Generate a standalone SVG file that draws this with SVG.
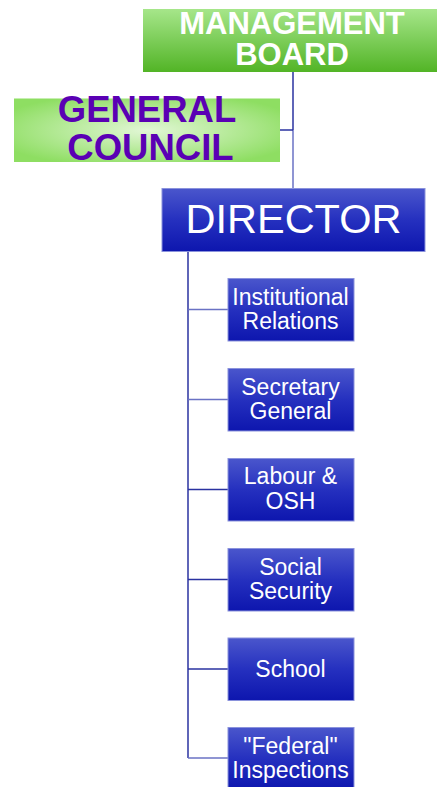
<svg xmlns="http://www.w3.org/2000/svg" width="437" height="787" viewBox="0 0 437 787">
<defs>
<linearGradient id="gMB" x1="0" y1="0" x2="0" y2="1">
<stop offset="0" stop-color="#a6e68a"/>
<stop offset="1" stop-color="#52b426"/>
</linearGradient>
<radialGradient id="gGC" cx="0.5" cy="0.5" r="0.6">
<stop offset="0" stop-color="#e2f7d6"/>
<stop offset="1" stop-color="#8ede62"/>
</radialGradient>
<linearGradient id="gBlue" x1="0" y1="0" x2="0" y2="1">
<stop offset="0" stop-color="#4a56cc"/>
<stop offset="0.5" stop-color="#2530bf"/>
<stop offset="1" stop-color="#0d16ae"/>
</linearGradient>
<style>
.box{fill:url(#gBlue);stroke:#8a92dc;stroke-width:1}
.t{font-family:"Liberation Sans",Arial,sans-serif;fill:#ffffff;text-anchor:middle}
.sub{font-size:23px}
.dark{stroke:#2a32a0;stroke-width:1.5;fill:none}
.light{stroke:#6a72c4;stroke-width:1.5;fill:none}
</style>
</defs>
<g id="connectors">
<line class="dark" x1="293" y1="72" x2="293" y2="130"/>
<line class="light" x1="293" y1="130" x2="293" y2="188"/>
<line class="dark" x1="280" y1="130" x2="293" y2="130"/>
<line class="dark" x1="188" y1="251" x2="188" y2="758"/>
<line class="light" x1="188" y1="309.5" x2="228" y2="309.5"/>
<line class="light" x1="188" y1="399.5" x2="228" y2="399.5"/>
<line class="dark" x1="188" y1="489.5" x2="228" y2="489.5"/>
<line class="dark" x1="188" y1="579.5" x2="228" y2="579.5"/>
<line class="dark" x1="188" y1="669" x2="228" y2="669"/>
<line class="light" x1="188" y1="758" x2="228" y2="758"/>
</g>
<g id="management-board">
<rect x="143" y="9" width="298" height="63" fill="url(#gMB)"/>
<text class="t" x="292" y="33.5" font-size="31" font-weight="bold">MANAGEMENT</text>
<text class="t" x="292" y="65" font-size="31" font-weight="bold">BOARD</text>
</g>
<g id="general-council">
<rect x="14" y="98.5" width="266" height="63.5" fill="url(#gGC)"/>
<text class="t" x="147" y="121.5" font-size="36.5" font-weight="bold" style="fill:#5a00b4">GENERAL</text>
<text class="t" x="150.5" y="160" font-size="36.5" font-weight="bold" style="fill:#5a00b4">COUNCIL</text>
</g>
<g id="director">
<rect class="box" x="162" y="188.5" width="263" height="63"/>
<text class="t" x="293.5" y="233.3" font-size="41.5">DIRECTOR</text>
</g>
<g id="institutional-relations">
<rect class="box" x="228" y="278.5" width="126" height="62.5"/>
<text class="t sub" x="290.5" y="304.7">Institutional</text>
<text class="t sub" x="290.5" y="329.3">Relations</text>
</g>
<g id="secretary-general">
<rect class="box" x="228" y="368.5" width="126" height="62.5"/>
<text class="t sub" x="290.5" y="394.7">Secretary</text>
<text class="t sub" x="290.5" y="419.3">General</text>
</g>
<g id="labour-osh">
<rect class="box" x="228" y="458.5" width="126" height="62.5"/>
<text class="t sub" x="290.5" y="484.3">Labour &amp;</text>
<text class="t sub" x="290.5" y="509">OSH</text>
</g>
<g id="social-security">
<rect class="box" x="228" y="548.5" width="126" height="62.5"/>
<text class="t sub" x="290.5" y="574.5">Social</text>
<text class="t sub" x="290.5" y="599">Security</text>
</g>
<g id="school">
<rect class="box" x="228" y="638" width="126" height="62.5"/>
<text class="t sub" x="290.5" y="677">School</text>
</g>
<g id="federal-inspections">
<rect class="box" x="228" y="727.5" width="126" height="62.5"/>
<text class="t sub" x="290.5" y="753.5">"Federal"</text>
<text class="t sub" x="290.5" y="778">Inspections</text>
</g>
</svg>
